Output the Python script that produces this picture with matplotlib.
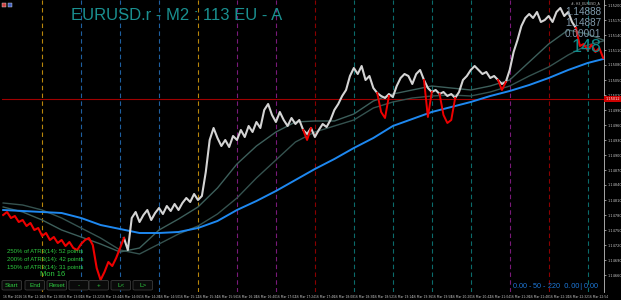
import numpy as np
import matplotlib
matplotlib.use("Agg")
import matplotlib.pyplot as plt
from matplotlib.patches import Rectangle, FancyBboxPatch

# =============================================================================
#                                   Data
# =============================================================================

# close prices, one per bar unit (EURUSD.r M2)
close = [
    1.14780, 1.14786, 1.14774, 1.14778, 1.14766, 1.14770, 1.14758, 1.14764, 1.14750, 1.14754,
    1.14738, 1.14744, 1.14730, 1.14736, 1.14724, 1.14730, 1.14718, 1.14726, 1.14714, 1.14710,
    1.14722, 1.14730, 1.14734, 1.14720, 1.14674, 1.14650, 1.14666, 1.14686, 1.14678, 1.14694,
    1.14714, 1.14734, 1.14710, 1.14774, 1.14786, 1.14766, 1.14780, 1.14790, 1.14770, 1.14784,
    1.14794, 1.14782, 1.14798, 1.14788, 1.14802, 1.14790, 1.14804, 1.14814, 1.14806, 1.14822,
    1.14810, 1.14818, 1.14866, 1.14930, 1.14954, 1.14934, 1.14918, 1.14930, 1.14916, 1.14938,
    1.14930, 1.14950, 1.14936, 1.14958, 1.14946, 1.14966, 1.14954, 1.14990, 1.15002, 1.14980,
    1.14966, 1.14986, 1.14970, 1.14958, 1.14974, 1.14962, 1.14970, 1.14950, 1.14942, 1.14954,
    1.14936, 1.14950, 1.14962, 1.14956, 1.14970, 1.14990, 1.15002, 1.15018, 1.15030, 1.15058,
    1.15074, 1.15062, 1.15078, 1.15050, 1.15058, 1.15034, 1.15024, 1.15018, 1.15014, 1.15022,
    1.15016, 1.15038, 1.15054, 1.15062, 1.15058, 1.15042, 1.15062, 1.15070, 1.15050, 1.15034,
    1.15026, 1.15030, 1.15022, 1.15026, 1.15018, 1.15022, 1.15014, 1.15026, 1.15050, 1.15058,
    1.15070, 1.15078, 1.15070, 1.15062, 1.15066, 1.15054, 1.15058, 1.15050, 1.15042, 1.15046,
    1.15070, 1.15106, 1.15130, 1.15158, 1.15174, 1.15182, 1.15174, 1.15186, 1.15166, 1.15170,
    1.15178, 1.15166, 1.15186, 1.15194, 1.15178, 1.15186, 1.15166, 1.15154, 1.15118, 1.15122,
    1.15110, 1.15120, 1.15106, 1.15114, 1.15094,
]
red_head = 31      # bars 0..31 drawn red
red_tail = 147     # bars 147.. drawn red

# red dips drawn over the candles
dip_starts = [77, 96, 108, 112, 127]
dip_values = [
    [1.14950, 1.14930, 1.14954],
    [1.15024, 1.14986, 1.14974, 1.15018],
    [1.15050, 1.14976, 1.15026],
    [1.15022, 1.14980, 1.14964, 1.14970, 1.15014],
    [1.15050, 1.15030, 1.15046],
]

# moving averages, sampled every 5 bars (+ last bar)
ma_x = list(range(0, 151, 5)) + [154]
ma_blue = [
    1.14790, 1.14788, 1.14786, 1.14784, 1.14774, 1.14760, 1.14752, 1.14744, 1.14744, 1.14746,
    1.14754, 1.14768, 1.14790, 1.14808, 1.14828, 1.14850, 1.14872, 1.14892, 1.14914, 1.14934,
    1.14958, 1.14972, 1.14986, 1.14996, 1.15006, 1.15018, 1.15028, 1.15040, 1.15054, 1.15070,
    1.15084, 1.15092,
]
ma_fast = [
    1.14796, 1.14786, 1.14770, 1.14750, 1.14736, 1.14722, 1.14706, 1.14714, 1.14750, 1.14772,
    1.14796, 1.14834, 1.14882, 1.14918, 1.14946, 1.14966, 1.14968, 1.14968, 1.14982, 1.15008,
    1.15022, 1.15030, 1.15038, 1.15034, 1.15030, 1.15038, 1.15050, 1.15086, 1.15122, 1.15150,
    1.15142, 1.15130,
]
ma_slow = [
    1.14804, 1.14800, 1.14790, 1.14774, 1.14754, 1.14734, 1.14710, 1.14702, 1.14722, 1.14742,
    1.14758, 1.14782, 1.14814, 1.14854, 1.14890, 1.14926, 1.14946, 1.14958, 1.14970, 1.14994,
    1.15006, 1.15014, 1.15018, 1.15020, 1.15018, 1.15026, 1.15038, 1.15058, 1.15076, 1.15100,
    1.15120, 1.15128,
]

# session separators
vline_x = list(range(10, 151, 10))
vline_colors = ['#b8860b', '#1f5fa0', '#1f5fa0', '#1f5fa0', '#b8860b', '#7a1a7a', '#7a1a7a',
                '#8b0000', '#0b6b6b', '#0b6b6b', '#0b6b6b', '#0b6b6b', '#7a1a7a', '#8b0000',
                '#0b6b6b']

hline_price = 1.15012

price_ticks = [round(1.15200 - 0.0003 * i, 5) for i in range(19)]
time_ticks = list(range(0, 151, 5))
time_labels = ['16 Mar 2026'] + ['16 Mar %02d:%02d' % divmod(11 * 60 + 54 + 22 * k, 60)
                                 for k in range(1, 31)]

atr_lines = ['250% of ATR3(14): 52 points',
             '200% of ATR3(14): 42 points',
             '150% of ATR3(14): 31 points']
buttons = ['Start', 'End', 'Reset', '-', '+', 'L<', 'L>']
quote_lines = ['1.14888', '1.14887', '0.00001']

# =============================================================================
#                                  Plot
# =============================================================================

W, H = 621, 300
fig = plt.figure(figsize=(W / 100, H / 100), dpi=100, facecolor='black')
ax = fig.add_axes([2 / W, 8 / H, 602 / W, 292 / H], facecolor='black')

x = np.arange(len(close))
c = np.array(close)

ax.set_xlim(-0.3, 154.2)
ax.set_ylim(1.14626, 1.15210)

for xv, col in zip(vline_x, vline_colors):
    ax.axvline(xv, color=col, lw=0.8, ls=(0, (4, 3)), zorder=1)
ax.axhline(hline_price, color='#a00000', lw=0.8, zorder=1)

ax.plot(ma_x, ma_slow, color='#35524f', lw=1.0, zorder=2)
ax.plot(ma_x, ma_fast, color='#3d5f5b', lw=1.0, zorder=2)
ax.plot(ma_x, ma_blue, color='#1e88f0', lw=1.4, zorder=3)

ax.plot(x[red_head:red_tail + 1], c[red_head:red_tail + 1], color='#d4d4d4', lw=1.5,
        zorder=4)
ax.plot(x[:red_head + 1], c[:red_head + 1], color='#ee0000', lw=1.5, zorder=4)
ax.plot(x[red_tail:], c[red_tail:], color='#ee0000', lw=1.5, zorder=6)
for s, vals in zip(dip_starts, dip_values):
    ax.plot(np.arange(s, s + len(vals)), vals, color='#ee0000', lw=1.4, zorder=5)

# axes styling
for side in ['top', 'bottom', 'left']:
    ax.spines[side].set_visible(False)
ax.spines['right'].set_color('#c0c0c0')
ax.spines['right'].set_linewidth(0.6)
ax.yaxis.tick_right()
ax.set_yticks(price_ticks)
ax.set_yticklabels(['%.5f' % p for p in price_ticks])
ax.tick_params(axis='y', colors='#c8c8c8', labelsize=2.5, length=1.5, width=0.5, pad=1)
ax.set_xticks(time_ticks)
ax.set_xticklabels(time_labels, ha='left')
ax.tick_params(axis='x', colors='#c8c8c8', labelsize=2.2, length=0, pad=2)

# current line label on price axis
ax.text(1.002, (hline_price - 1.14626) / (1.15210 - 1.14626), '%.5f' % hline_price,
        transform=ax.transAxes, fontsize=2.5, color='white', va='center', ha='left',
        bbox=dict(boxstyle='square,pad=0.25', fc='#cc0000', ec='none'))

# title and quote texts
fig.text(71 / W, 1 - 16 / H, 'EURUSD.r - M2 : 113 EU - A', color='#1a9090',
         fontsize=12, family='Liberation Sans', va='center', ha='left')
for i, q in enumerate(quote_lines):
    fig.text(601 / W, 1 - (12 + 11 * i) / H, q, color='#7f98aa', fontsize=7.2,
             family='Liberation Sans', va='center', ha='right')
fig.text(602 / W, 1 - 48 / H, '148', color='#0f8a8a', fontsize=13,
         family='Liberation Sans', va='center', ha='right', zorder=0)
fig.text(600 / W, 1 - 3 / H, '#- H3_EURUSD_A', color='#c0c0c0', fontsize=2.3,
         va='center', ha='right')
fig.patches.append(Rectangle((2 / W, 1 - 7 / H), 4 / W, 4 / H, transform=fig.transFigure,
                             fc='#d04040', ec='#dddddd', lw=0.3))
fig.patches.append(Rectangle((8 / W, 1 - 7 / H), 4 / W, 4 / H, transform=fig.transFigure,
                             fc='#4060c0', ec='#dddddd', lw=0.3))

# ATR info
for i, t in enumerate(atr_lines):
    fig.text(7 / W, 1 - (251 + 8 * i) / H, t, color='#2ecc40', fontsize=4.3,
             family='Liberation Sans', va='center', ha='left')
fig.text(40 / W, 1 - 275 / H, 'Mon 16', color='#2ecc40', fontsize=5.4,
         family='Liberation Sans', va='center', ha='left')

# buttons
bx = [2, 25, 47, 69, 89, 111, 133]
for b, x0 in zip(buttons, bx):
    fig.patches.append(FancyBboxPatch((x0 / W, 1 - 290 / H), 19.5 / W, 9.5 / H,
                                      boxstyle='round,pad=0,rounding_size=0.003',
                                      transform=fig.transFigure, fc='#0a0a0a',
                                      ec='#3a3a3a', lw=0.6))
    fig.text((x0 + 9.75) / W, 1 - 285.3 / H, b, color='#2ecc40', fontsize=4.6,
             family='Liberation Sans', va='center', ha='center')

fig.text(600 / W, 1 - 286 / H, '0.00 - 50 - 220  $ 0.00 | $ 0.00', color='#1e78d8',
         fontsize=5.2, family='Liberation Sans', va='center', ha='right')

fig.savefig('out.png', dpi=100, facecolor='black')
